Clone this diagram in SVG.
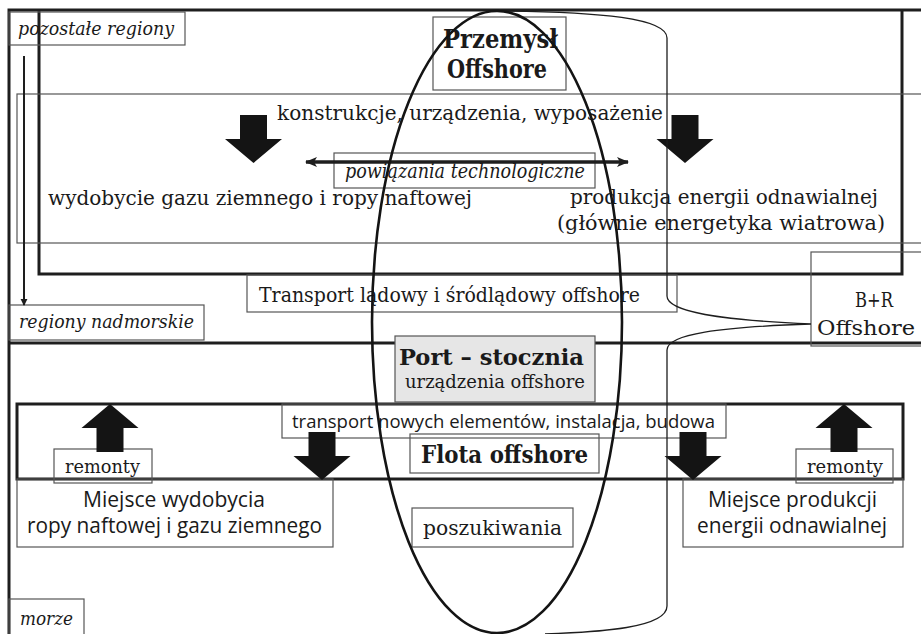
<svg xmlns="http://www.w3.org/2000/svg" width="921" height="634" viewBox="0 0 921 634">
<style>
.thick{fill:none;stroke:#1e1e1e;stroke-width:3}
.thin{fill:none;stroke:#555;stroke-width:1.2}
.box{fill:none;stroke:#555;stroke-width:1.2}
.t{font-family:"DejaVu Serif","Liberation Serif",serif;fill:#1a1a1a}
.i{font-style:italic}
.b{font-weight:bold}
.s{font-family:"Open Sans","Noto Sans",sans-serif;fill:#1a1a1a}
.blk{fill:#141414}
</style>
<defs>
<path id="darr" class="blk" d="M-13.5,-48 H13.5 V-24 H28.5 L0,0 L-28.5,-24 H-13.5 Z"/>
<marker id="ah" viewBox="0 0 12 10" refX="11" refY="5" markerWidth="12" markerHeight="10" markerUnits="userSpaceOnUse" orient="auto-start-reverse">
<path d="M0,0 L12,5 L0,10 L3,5 Z" fill="#1e1e1e"/>
</marker>
<marker id="ahs" viewBox="0 0 8 8" refX="7" refY="4" markerWidth="7" markerHeight="8" markerUnits="userSpaceOnUse" orient="auto">
<path d="M0,0 L8,4 L0,8 Z" fill="#1e1e1e"/>
</marker>
</defs>
<rect width="921" height="634" fill="#fff"/>

<g id="frames">
<path class="thick" d="M9,634 V10 H921"/>
<path class="thick" d="M39,10 V274 H902 V10"/>
<rect class="thin" x="17" y="94" width="920" height="149"/>
<path class="thick" d="M9,343 H921"/>
<rect class="thick" x="17" y="404" width="886" height="75"/>
</g>

<g id="pozostale-regiony">
<rect class="box" x="9" y="12" width="176" height="33"/>
<text class="t i" x="18" y="35" font-size="19" textLength="156" lengthAdjust="spacingAndGlyphs">pozostałe regiony</text>
</g>
<g id="regiony-nadmorskie">
<rect class="box" x="9" y="305" width="195" height="35"/>
<text class="t i" x="19" y="328" font-size="19" textLength="175" lengthAdjust="spacingAndGlyphs">regiony nadmorskie</text>
</g>
<g id="morze">
<rect class="box" x="9" y="599" width="75" height="40"/>
<text class="t i" x="20" y="625" font-size="19" textLength="53" lengthAdjust="spacingAndGlyphs">morze</text>
</g>

<g id="przemysl-offshore">
<rect class="box" x="433" y="17" width="133" height="73" fill="#fff"/>
<text class="t b" x="443" y="48" font-size="26" textLength="115" lengthAdjust="spacingAndGlyphs">Przemysł</text>
<text class="t b" x="447" y="78" font-size="26" textLength="100" lengthAdjust="spacingAndGlyphs">Offshore</text>
</g>

<g id="konstrukcje">
<text class="t" x="277" y="120" font-size="21" textLength="386" lengthAdjust="spacingAndGlyphs">konstrukcje, urządzenia, wyposażenie</text>
</g>
<g id="powiazania">
<rect class="box" x="334" y="153" width="261" height="35"/>
<text class="t i" x="345" y="178" font-size="20" textLength="240" lengthAdjust="spacingAndGlyphs">powiązania technologiczne</text>
</g>
<g id="wydobycie">
<text class="t" x="48" y="205" font-size="21" textLength="424" lengthAdjust="spacingAndGlyphs">wydobycie gazu ziemnego i ropy naftowej</text>
</g>
<g id="produkcja">
<text class="t" x="570" y="204" font-size="21" textLength="308" lengthAdjust="spacingAndGlyphs">produkcja energii odnawialnej</text>
<text class="t" x="557" y="230" font-size="21" textLength="328" lengthAdjust="spacingAndGlyphs">(głównie energetyka wiatrowa)</text>
</g>

<g id="transport-ladowy">
<rect class="box" x="247" y="275" width="430" height="37"/>
<text class="t" x="259" y="302" font-size="21" textLength="381" lengthAdjust="spacingAndGlyphs">Transport lądowy i śródlądowy offshore</text>
</g>

<g id="br-offshore">
<rect class="box" x="811" y="252" width="130" height="94"/>
<text class="t" x="855" y="307" font-size="21" textLength="38" lengthAdjust="spacingAndGlyphs">B+R</text>
<text class="t" x="817" y="335" font-size="21" textLength="98" lengthAdjust="spacingAndGlyphs">Offshore</text>
</g>

<g id="port-stocznia">
<rect x="395" y="336" width="200" height="66" fill="#e6e6e6" stroke="#555" stroke-width="1.2"/>
<text class="t b" x="399" y="365" font-size="23" textLength="185" lengthAdjust="spacingAndGlyphs">Port – stocznia</text>
<text class="t" x="405" y="388" font-size="19" textLength="180" lengthAdjust="spacingAndGlyphs">urządzenia offshore</text>
</g>

<g id="transport-nowych">
<rect class="box" x="282" y="404" width="444" height="34"/>
<text class="s" x="292" y="428" font-size="18" textLength="423" lengthAdjust="spacingAndGlyphs">transport nowych elementów, instalacja, budowa</text>
</g>

<g id="flota-offshore">
<rect class="box" x="410" y="434" width="189" height="39"/>
<text class="t b" x="421" y="463" font-size="25" textLength="167" lengthAdjust="spacingAndGlyphs">Flota offshore</text>
</g>

<g id="remonty-lewe">
<rect class="box" x="54" y="449" width="98" height="34"/>
<text class="t" x="65" y="473" font-size="19" textLength="75" lengthAdjust="spacingAndGlyphs">remonty</text>
</g>
<g id="remonty-prawe">
<rect class="box" x="796" y="449" width="97" height="34"/>
<text class="t" x="807" y="473" font-size="19" textLength="76" lengthAdjust="spacingAndGlyphs">remonty</text>
</g>

<g id="miejsce-wydobycia">
<rect class="box" x="17" y="479" width="316" height="68"/>
<text class="s" x="83" y="507" font-size="21" textLength="182" lengthAdjust="spacingAndGlyphs">Miejsce wydobycia</text>
<text class="s" x="27" y="533" font-size="21" textLength="295" lengthAdjust="spacingAndGlyphs">ropy naftowej i gazu ziemnego</text>
</g>
<g id="miejsce-produkcji">
<rect class="box" x="683" y="479" width="220" height="68"/>
<text class="s" x="708" y="507" font-size="21" textLength="169" lengthAdjust="spacingAndGlyphs">Miejsce produkcji</text>
<text class="s" x="697" y="533" font-size="21" textLength="190" lengthAdjust="spacingAndGlyphs">energii odnawialnej</text>
</g>
<g id="poszukiwania">
<rect class="box" x="412" y="508" width="161" height="39"/>
<text class="t" x="423" y="535" font-size="20" textLength="139" lengthAdjust="spacingAndGlyphs">poszukiwania</text>
</g>

<g id="connectors">
<line x1="24" y1="56" x2="24" y2="305" stroke="#1e1e1e" stroke-width="2" marker-end="url(#ahs)"/>
<line x1="306" y1="162" x2="628" y2="162" stroke="#1e1e1e" stroke-width="3.5" marker-start="url(#ah)" marker-end="url(#ah)"/>
<use href="#darr" transform="translate(253.5,163)"/>
<use href="#darr" transform="translate(685,163)"/>
<use href="#darr" transform="translate(322,480)"/>
<use href="#darr" transform="translate(693,480)"/>
<use href="#darr" transform="translate(110,404) scale(1,-1)"/>
<use href="#darr" transform="translate(844,404) scale(1,-1)"/>
<path d="M505,11 C600,12 667,18 667,38 V296 C667,312 720,320 811,324 C720,327 667,334 667,350 V606 C667,628 600,632 545,634" fill="none" stroke="#1e1e1e" stroke-width="1.3"/>
<ellipse cx="497" cy="322" rx="125" ry="311" fill="none" stroke="#141414" stroke-width="2.6"/>
</g>
</svg>
